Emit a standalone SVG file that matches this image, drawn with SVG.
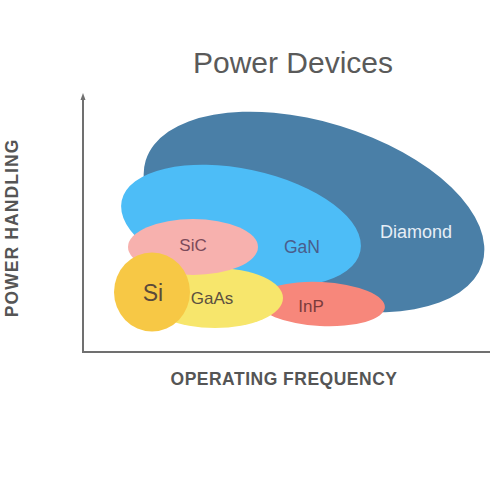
<svg xmlns="http://www.w3.org/2000/svg" width="490" height="490" viewBox="0 0 490 490">
<style>
text{font-family:"Liberation Sans",Arial,sans-serif}
.axis{stroke:#707070;stroke-width:2;fill:none}
.lbl{text-anchor:middle}
.ax{font-weight:bold;fill:#555;text-anchor:middle}
</style>
<rect width="490" height="490" fill="#ffffff"/>
<text x="293" y="73" font-size="30" fill="#5a5a5a" text-anchor="middle">Power Devices</text>
<g id="axes">
<path class="axis" d="M83,96 L83,352 L490,352"/>
<path d="M80.5,100 L83,93 L85.5,100 Z" fill="#707070"/>
</g>
<text class="ax" transform="translate(17.5,228) rotate(-90)" font-size="17.5" letter-spacing="1.1">POWER HANDLING</text>
<text class="ax" x="284" y="385" font-size="17.5" letter-spacing="0.5">OPERATING FREQUENCY</text>
<g id="diamond">
<ellipse cx="314" cy="212" rx="176" ry="90" transform="rotate(17 314 212)" fill="#4a7fa7"/>
<text class="lbl" x="416" y="238" font-size="18" fill="#e6eef6">Diamond</text>
</g>
<g id="gan">
<ellipse cx="241" cy="226" rx="122" ry="57" transform="rotate(12 241 226)" fill="#4dbdf7"/>
<text class="lbl" x="302" y="253" font-size="17.5" fill="#4a5d8c">GaN</text>
</g>
<g id="inp">
<ellipse cx="321" cy="304" rx="64" ry="22" transform="rotate(3 321 304)" fill="#f7877b"/>
<text class="lbl" x="311" y="312" font-size="17" fill="#7a3b3b">InP</text>
</g>
<g id="gaas">
<ellipse cx="215" cy="298" rx="68" ry="30" fill="#f7e66c"/>
<text class="lbl" x="212" y="304" font-size="17" fill="#5b5040">GaAs</text>
</g>
<g id="sic">
<ellipse cx="193" cy="247" rx="65" ry="28" fill="#f7b1ae"/>
<text class="lbl" x="193" y="251" font-size="17" fill="#7b4a5a">SiC</text>
</g>
<g id="si">
<ellipse cx="152" cy="292" rx="38" ry="39.5" fill="#f7c845"/>
<text class="lbl" x="153" y="301" font-size="23" fill="#5b4a3a">Si</text>
</g>
</svg>
